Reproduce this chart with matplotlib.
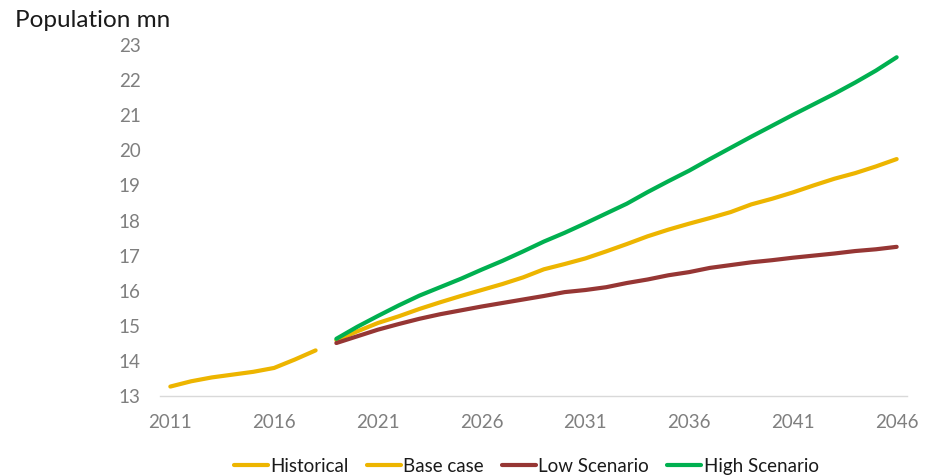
import matplotlib
matplotlib.use("Agg")
import matplotlib.pyplot as plt

plt.rcParams["font.family"] = ["Lato", "DejaVu Sans"]

years_hist = list(range(2011, 2019))
historical = [13.27, 13.42, 13.53, 13.61, 13.69, 13.80, 14.04, 14.30]

years_fc = list(range(2019, 2047))
base_case = [14.59, 14.84, 15.08, 15.27, 15.48, 15.67, 15.85, 16.02, 16.19, 16.38,
             16.61, 16.76, 16.92, 17.12, 17.33, 17.55, 17.74, 17.91, 18.07, 18.24,
             18.46, 18.62, 18.80, 19.00, 19.19, 19.35, 19.54, 19.75]
low_scenario = [14.51, 14.70, 14.89, 15.05, 15.20, 15.33, 15.44, 15.55, 15.65, 15.75,
                15.85, 15.96, 16.02, 16.10, 16.22, 16.32, 16.44, 16.53, 16.65, 16.73,
                16.81, 16.87, 16.94, 17.00, 17.06, 17.13, 17.18, 17.25]
high_scenario = [14.63, 14.97, 15.28, 15.58, 15.86, 16.10, 16.34, 16.60, 16.85, 17.12,
                 17.40, 17.65, 17.92, 18.20, 18.48, 18.81, 19.12, 19.42, 19.75, 20.07,
                 20.39, 20.70, 21.01, 21.31, 21.61, 21.93, 22.27, 22.65]

x_ticks = list(range(2011, 2047, 5))
y_ticks = list(range(13, 24))

yellow = "#EDB500"
red = "#963634"
green = "#00B050"

fig = plt.figure(figsize=(9.3, 4.76), dpi=100)
ax = fig.add_axes([0.172, 0.168, 0.8033, 0.7375])

ax.plot(years_hist, historical, color=yellow, lw=3, label="Historical", solid_capstyle="round")
ax.plot(years_fc, base_case, color=yellow, lw=3, label="Base case", solid_capstyle="round")
ax.plot(years_fc, low_scenario, color=red, lw=3, label="Low Scenario", solid_capstyle="round")
ax.plot(years_fc, high_scenario, color=green, lw=3, label="High Scenario", solid_capstyle="round")

ax.set_xlim(2010.5, 2046.5)
ax.set_ylim(13, 23)
ax.set_xticks(x_ticks)
ax.set_yticks(y_ticks)
ax.tick_params(length=0, labelsize=13.5, colors="#7f7f7f")
ax.tick_params(axis="y", pad=14)
ax.tick_params(axis="x", pad=13)

for side in ["top", "right", "left"]:
    ax.spines[side].set_visible(False)
ax.spines["bottom"].set_color("#d9d9d9")
ax.spines["bottom"].set_linewidth(1)

fig.text(0.016, 0.957, "Population mn", fontsize=17.5, color="#1a1a1a", va="center", ha="left")

fig.legend(loc="center", bbox_to_anchor=(0.566, 0.021), ncol=4, frameon=False,
           fontsize=13.5, handlelength=1.8, handletextpad=0.15, columnspacing=0.95,
           labelcolor="#1a1a1a")

fig.savefig("out.png", dpi=100)
